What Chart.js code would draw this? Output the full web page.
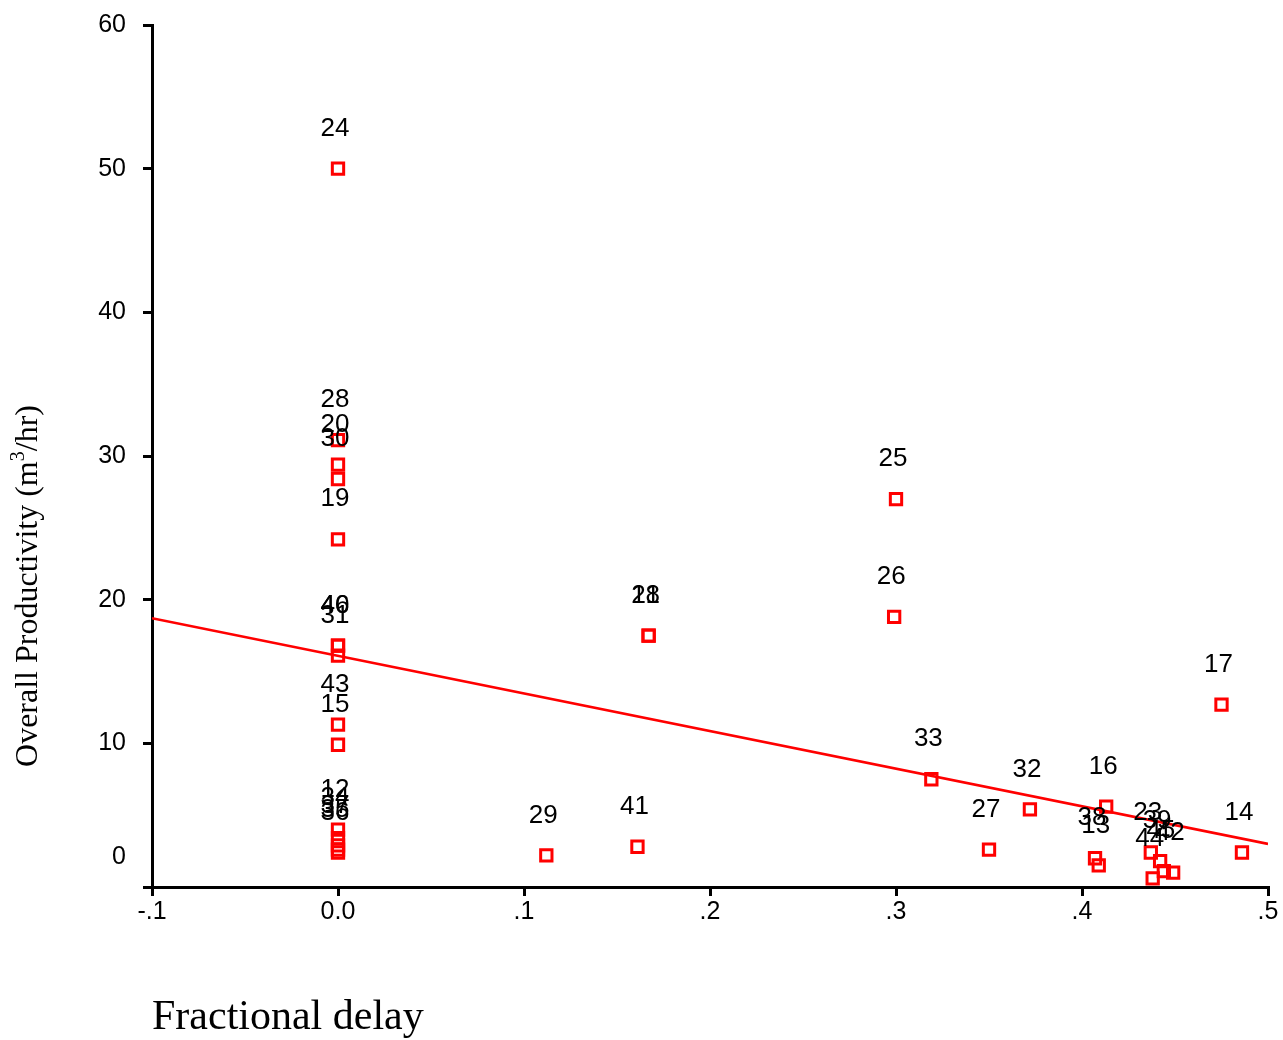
<!DOCTYPE html>
<html>
<head>
<meta charset="utf-8">
<script src="https://cdn.jsdelivr.net/npm/chart.js@4.4.1/dist/chart.umd.min.js"></script>
<style>
  html, body { margin: 0; padding: 0; background: #fff; }
  #wrap { width: 1283px; height: 1040px; }
</style>
</head>
<body>
<div id="wrap"><canvas id="chart" width="1283" height="1040"></canvas></div>
<script>
// case numbers, fractional delay (x) and overall productivity (y)
const caseLabels = ["24", "28", "20", "30", "19", "46", "40", "31", "43", "15", "12", "34", "37", "35", "36",
    "29", "41", "21", "18", "25", "26", "33", "27", "32", "16", "38", "13", "23", "39", "45", "42", "44", "17", "14"];
const delayValues = [0, 0, 0, 0, 0, 0, 0, 0, 0, 0, 0, 0, 0, 0, 0,
    0.112, 0.161, 0.167, 0.167, 0.300, 0.299, 0.319, 0.350, 0.372, 0.413, 0.407, 0.409, 0.437, 0.442, 0.444, 0.449, 0.438, 0.475, 0.486];
const productivityValues = [50.0, 31.1, 29.4, 28.4, 24.2, 16.8, 16.8, 16.1, 11.3, 9.9, 4.0, 3.4, 2.9, 2.6, 2.4,
    2.2, 2.8, 17.5, 17.5, 27.0, 18.8, 7.5, 2.6, 5.4, 5.6, 2.0, 1.5, 2.4, 1.8, 1.1, 1.0, 0.6, 12.7, 2.4];

// fitted line endpoints
const fitX = [-0.1, 0.5];
const fitY = [18.7, 3.0];

const xTicks = [-0.1, 0, 0.1, 0.2, 0.3, 0.4, 0.5];
const xTickLabels = ["-.1", "0.0", ".1", ".2", ".3", ".4", ".5"];

const sansFont = "'Liberation Sans', Arial, sans-serif";
const serifFont = "'Liberation Serif', 'Times New Roman', serif";

const points = delayValues.map((x, i) => ({x: x, y: productivityValues[i]}));
const fitLine = fitX.map((x, i) => ({x: x, y: fitY[i]}));

// draws the case number above each square
const caseLabelPlugin = {
    id: "caseLabels",
    afterDatasetsDraw(chart) {
        const ctx = chart.ctx;
        const meta = chart.getDatasetMeta(1);
        ctx.save();
        ctx.font = "26px " + sansFont;
        ctx.fillStyle = "#000";
        ctx.textAlign = "center";
        ctx.textBaseline = "middle";
        meta.data.forEach((pt, i) => {
            ctx.fillText(caseLabels[i], pt.x - 3, pt.y - 40);
        });
        ctx.restore();
    }
};

// y title with superscript
const yTitlePlugin = {
    id: "yTitle",
    afterDraw(chart) {
        const ctx = chart.ctx;
        ctx.save();
        ctx.translate(29, 586);
        ctx.rotate(-Math.PI / 2);
        ctx.fillStyle = "#000";
        ctx.textBaseline = "middle";
        const big = "32px " + serifFont;
        const small = "20px " + serifFont;
        const parts = [["Overall Productivity (m", big, 0], ["3", small, -10], ["/hr)", big, 0]];
        let total = 0;
        parts.forEach(p => { ctx.font = p[1]; total += ctx.measureText(p[0]).width; });
        let x = -total / 2;
        parts.forEach(p => {
            ctx.font = p[1];
            ctx.textAlign = "left";
            ctx.fillText(p[0], x, p[2]);
            x += ctx.measureText(p[0]).width;
        });
        ctx.restore();
    }
};

new Chart(document.getElementById("chart").getContext("2d"), {
    type: "scatter",
    data: {
        datasets: [
            {
                type: "line",
                data: fitLine,
                borderColor: "#ff0000",
                borderWidth: 2.5,
                pointRadius: 0,
                fill: false
            },
            {
                data: points,
                pointStyle: "rect",
                pointRadius: 8,
                pointHoverRadius: 8,
                pointBorderWidth: 3,
                pointBorderColor: "#ff0000",
                pointBackgroundColor: "rgba(0,0,0,0)"
            }
        ]
    },
    options: {
        responsive: false,
        animation: false,
        layout: {padding: {top: 25, right: 15, bottom: 0, left: 0}},
        plugins: {legend: {display: false}, tooltip: {enabled: false}},
        scales: {
            x: {
                type: "linear",
                min: -0.1,
                max: 0.5,
                afterBuildTicks(scale) {
                    scale.ticks = xTicks.map(v => ({value: v}));
                },
                afterFit(scale) {
                    scale.height = 153;
                    scale.paddingLeft = 0;
                    scale.paddingRight = 0;
                },
                ticks: {
                    color: "#000",
                    font: {family: sansFont, size: 25},
                    padding: 1,
                    maxRotation: 0,
                    callback: (v) => xTickLabels[xTicks.findIndex(t => Math.abs(t - v) < 1e-6)]
                },
                grid: {drawOnChartArea: false, drawTicks: true, tickLength: 9, color: "#000", lineWidth: 3},
                border: {color: "#000", width: 3},
                title: {
                    display: true,
                    text: "Fractional delay",
                    align: "start",
                    color: "#000",
                    font: {family: serifFont, size: 42},
                    padding: {top: 0, bottom: -3}
                }
            },
            y: {
                min: 0,
                max: 60,
                afterFit(scale) {
                    scale.width = 152;
                    scale.paddingTop = 0;
                    scale.paddingBottom = 0;
                },
                ticks: {
                    stepSize: 10,
                    color: "#000",
                    font: {family: sansFont, size: 25},
                    padding: 17,
                    callback: (v) => v === 0 ? ["0", "", ""] : String(v)
                },
                grid: {drawOnChartArea: false, drawTicks: true, tickLength: 9, color: "#000", lineWidth: 3},
                border: {color: "#000", width: 3}
            }
        }
    },
    plugins: [caseLabelPlugin, yTitlePlugin]
});
</script>
</body>
</html>
